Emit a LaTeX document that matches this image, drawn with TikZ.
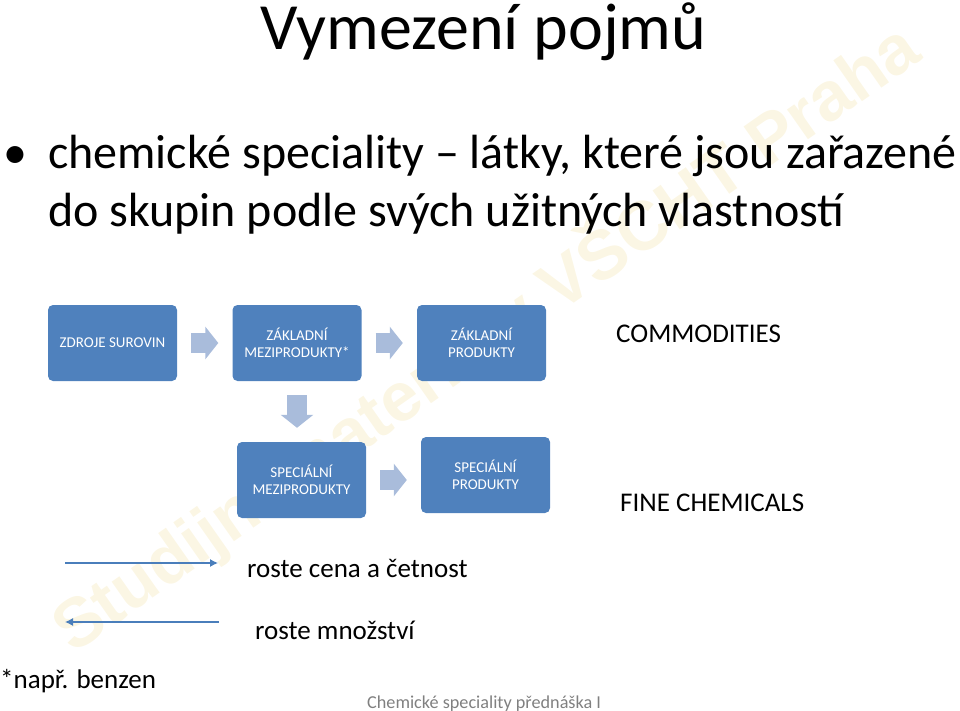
\documentclass[tikz,border=0pt]{standalone}
\usepackage{fontspec}
\usepackage{tikz}
\usetikzlibrary{arrows.meta}
\setmainfont{Carlito}
\newfontfamily\markfont{Liberation Sans}
\definecolor{boxblue}{HTML}{4F81BD}
\definecolor{flowblue}{HTML}{A9BCDB}
\definecolor{linkblue}{HTML}{4A7EBB}
\definecolor{markyellow}{HTML}{FBF6E4}
\tikzset{
	stagebox/.style={fill=boxblue, rounded corners=5pt, inner sep=0pt, minimum width=129pt, minimum height=76pt, align=center, text=white, font=\fontsize{15}{17.5}\selectfont},
	flow/.style={draw=flowblue, line width=20pt, shorten <=14pt, shorten >=14pt, -{Triangle[length=13pt,width=32pt,fill=flowblue]}},
	link/.style={draw=linkblue, line width=1.2pt, -{Latex[length=8pt,width=8pt]}},
	bodytext/.style={anchor=base west, inner sep=0pt, font=\fontsize{48}{56}\selectfont},
	labeltext/.style={anchor=base west, inner sep=0pt, font=\fontsize{27}{32}\selectfont}
}

\begin{document}
\begin{tikzpicture}[x=1pt,y=-1pt]
			\useasboundingbox (0,0) rectangle (960,711);
			\draw (485,337) node[rotate=35, text=markyellow, inner sep=0pt, font=\markfont\bfseries\fontsize{69}{80}\selectfont] (mark) {Studijní materiály VŠCHT Praha};
			\draw (483.5,50) node[anchor=base, inner sep=0pt, font=\fontsize{66}{72}\selectfont] (title) {Vymezení pojmů};
			\draw (15,169) node[anchor=base, inner sep=0pt, font=\fontsize{48}{56}\selectfont] (bullet) {•};
			\draw (48,169) node[bodytext] (line1) {chemické speciality -- látky, které jsou zařazené};
			\draw (48,226) node[bodytext] (line2) {do skupin podle svých užitných vlastností};
			\draw (112.5,343) node[stagebox] (zdroje) {ZDROJE SUROVIN};
			\draw (297,343) node[stagebox] (zakmezi) {ZÁKLADNÍ\\MEZIPRODUKTY*};
			\draw (481.5,343) node[stagebox] (zakprod) {ZÁKLADNÍ\\PRODUKTY};
			\draw (301.5,480) node[stagebox] (specmezi) {SPECIÁLNÍ\\MEZIPRODUKTY};
			\draw (485.5,475) node[stagebox] (specprod) {SPECIÁLNÍ\\PRODUKTY};
			\draw[flow] (zdroje) -- (zakmezi);
			\draw[flow] (zakmezi) -- (zakprod);
			\draw[flow] (zakmezi.south) -- (zakmezi.south|-specmezi.north);
			\draw[flow] (specmezi.east) -- (specmezi.east-|specprod.west);
			\draw (616,342) node[labeltext] (commodities) {COMMODITIES};
			\draw (620,511) node[labeltext] (fine) {FINE CHEMICALS};
			\coordinate (cenastart) at (65,563);
			\coordinate (cenaend) at (218,563);
			\coordinate (mnozstart) at (219,622);
			\coordinate (mnozend) at (65,622);
			\draw[link] (cenastart) -- (cenaend);
			\draw[link] (mnozstart) -- (mnozend);
			\draw (247,577) node[labeltext] (cena) {roste cena a četnost};
			\draw (255,639) node[labeltext] (mnozstvi) {roste množství};
			\draw (0,688) node[labeltext] (benzen) {*např. benzen};
			\draw (367,708) node[anchor=base west, inner sep=0pt, text=black!50, font=\fontsize{18.2}{22}\selectfont] (footer) {Chemické speciality přednáška I};
		\end{tikzpicture}
\end{document}
